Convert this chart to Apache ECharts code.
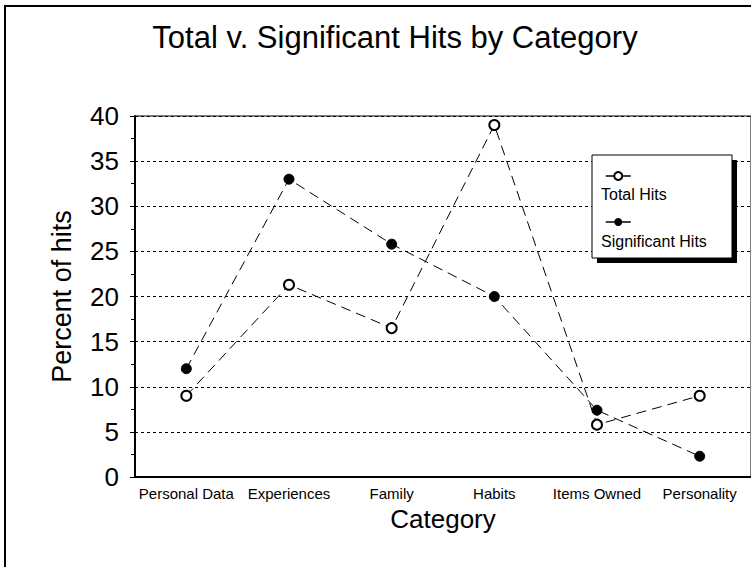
<!DOCTYPE html>
<html>
<head>
<meta charset="utf-8">
<script src="https://cdn.jsdelivr.net/npm/echarts@6/dist/echarts.min.js"></script>
<style>
html,body{margin:0;padding:0;background:#fff;}
#chart{width:751px;height:567px;}
</style>
</head>
<body>
<div id="chart"></div>
<script>
var categories = ['Personal Data', 'Experiences', 'Family', 'Habits', 'Items Owned', 'Personality'];
var totalHits = [9, 21.3, 16.5, 39, 5.8, 9];
var significantHits = [12, 33, 25.8, 20, 7.4, 2.3];
var seriesNames = ['Total Hits', 'Significant Hits'];
var yTicks = [0, 5, 10, 15, 20, 25, 30, 35, 40];

var chart = echarts.init(document.getElementById('chart'), null, {renderer: 'svg'});
var font = 'Liberation Sans, Arial, sans-serif';
chart.setOption({
  backgroundColor: '#fff',
  animation: false,
  textStyle: {fontFamily: font, color: '#000'},
  title: {
    text: 'Total v. Significant Hits by Category',
    left: 390, top: 17, textAlign: 'center',
    textStyle: {fontFamily: font, fontSize: 31, fontWeight: 'normal', color: '#000'}
  },
  graphic: [
    {type: 'rect', shape: {x: 5, y: 6, width: 800, height: 620}, style: {fill: 'none', stroke: '#000', lineWidth: 2}, z: 0},
    {type: 'rect', shape: {x: 597, y: 160, width: 140, height: 103}, style: {fill: '#000'}, z: 10},
    {type: 'rect', shape: {x: 592, y: 155, width: 140, height: 103}, style: {fill: '#fff', stroke: '#000', lineWidth: 1}, z: 11},
    {type: 'text', left: 601, top: 186, style: {text: seriesNames[0], fontFamily: font, fontSize: 16, fill: '#000'}, z: 12},
    {type: 'text', left: 601, top: 233, style: {text: seriesNames[1], fontFamily: font, fontSize: 16, fill: '#000'}, z: 12}
  ],
  legend: {
    orient: 'vertical',
    left: 600, top: 166,
    itemWidth: 25, itemHeight: 10,
    itemGap: 36,
    formatter: function () { return ''; },
    lineStyle: {type: 'solid', width: 1.5},
    z: 13,
    data: seriesNames
  },
  grid: {left: 135, top: 116, width: 622, height: 361, show: true, borderColor: '#000', borderWidth: 1, backgroundColor: 'transparent'},
  xAxis: {
    type: 'category',
    data: categories,
    boundaryGap: true,
    name: 'Category',
    nameLocation: 'middle',
    nameGap: 27,
    nameTextStyle: {fontFamily: font, fontSize: 26, color: '#000'},
    axisLine: {lineStyle: {color: '#000', width: 2}},
    axisTick: {alignWithLabel: true, length: 5, lineStyle: {color: '#000'}},
    axisLabel: {fontFamily: font, fontSize: 15, color: '#000', margin: 9, interval: 0},
    splitLine: {show: false}
  },
  yAxis: {
    type: 'value',
    min: 0, max: 40, interval: 5,
    name: 'Percent of hits',
    nameLocation: 'middle',
    nameGap: 60,
    nameTextStyle: {fontFamily: font, fontSize: 27, color: '#000'},
    axisLine: {show: true, lineStyle: {color: '#000', width: 2}},
    axisTick: {show: true, length: 5, lineStyle: {color: '#000'}},
    minorTick: {show: true, splitNumber: 2, length: 4, lineStyle: {color: '#000'}},
    axisLabel: {fontFamily: font, fontSize: 26, color: '#000', margin: 16,
      formatter: function (v) { return yTicks.indexOf(v) >= 0 ? String(v) : ''; }},
    splitLine: {show: true, lineStyle: {color: '#000', width: 1, type: [3, 3]}}
  },
  series: [
    {
      name: seriesNames[0], type: 'line', data: totalHits,
      symbol: 'emptyCircle', symbolSize: 10,
      lineStyle: {color: '#000', width: 1, type: [10, 6]},
      itemStyle: {color: '#000', borderColor: '#000', borderWidth: 1}
    },
    {
      name: seriesNames[1], type: 'line', data: significantHits,
      symbol: 'circle', symbolSize: 10,
      lineStyle: {color: '#000', width: 1, type: [10, 6]},
      itemStyle: {color: '#000', borderColor: '#000'}
    }
  ]
});
</script>
</body>
</html>
